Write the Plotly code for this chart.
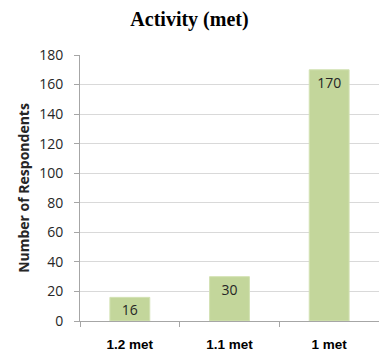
import plotly.graph_objects as go

# Activity levels and respondent counts
categories = ["1.2 met", "1.1 met", "1 met"]
respondents = [16, 30, 170]
y_ticks = [0, 20, 40, 60, 80, 100, 120, 140, 160, 180]

fig = go.Figure(
    go.Bar(
        x=categories,
        y=respondents,
        text=[str(v) for v in respondents],
        textposition="inside",
        insidetextanchor="end",
        textangle=0,
        constraintext="none",
        textfont=dict(family="Open Sans, Liberation Sans, sans-serif", size=14, color="#262626"),
        marker=dict(color="#c3d69b", line=dict(color="#d3e2b4", width=1)),
        width=0.4,
        cliponaxis=False,
    )
)

fig.update_layout(
    width=379,
    height=351,
    margin=dict(l=80, r=0, t=55, b=30),
    paper_bgcolor="white",
    plot_bgcolor="white",
    showlegend=False,
    uniformtext=dict(mode=False),
    title=dict(
        text="<b>Activity (met)</b>",
        font=dict(family="Liberation Serif, Times New Roman, serif", size=20, color="#000000"),
        x=0.5,
        xanchor="center",
        y=0.945,
        yanchor="middle",
    ),
    xaxis=dict(
        type="category",
        range=[-0.5, 2.5],
        showline=True,
        linecolor="#a6a6a6",
        linewidth=1,
        ticks="outside",
        tickson="boundaries",
        ticklen=5,
        tickcolor="#a6a6a6",
        ticklabelstandoff=11,
        tickfont=dict(family="Liberation Sans, Arial, sans-serif", size=13.5, color="#000000", weight="bold"),
        showgrid=False,
        automargin=False,
    ),
    yaxis=dict(
        range=[0, 180],
        tickvals=y_ticks,
        showline=True,
        linecolor="#a6a6a6",
        linewidth=1,
        ticks="outside",
        ticklen=5,
        tickcolor="#a6a6a6",
        ticklabelstandoff=8,
        tickfont=dict(family="Open Sans, Liberation Sans, sans-serif", size=14, color="#262626"),
        showgrid=True,
        gridcolor="#d9d9d9",
        gridwidth=1,
        zeroline=False,
        title=dict(
            text="<b>Number of Respondents</b>",
            font=dict(family="Open Sans, Liberation Sans, sans-serif", size=14, color="#262626"),
            standoff=6,
        ),
        automargin=False,
    ),
)

fig.write_html("out.html")
